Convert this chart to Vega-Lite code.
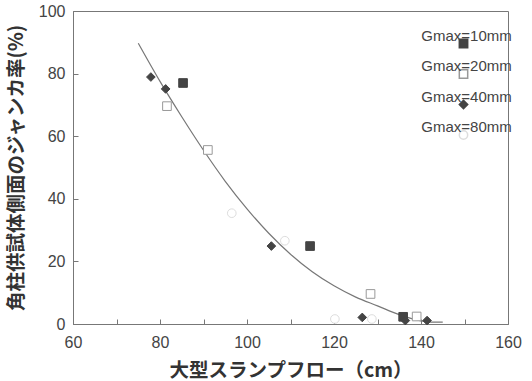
{
  "$schema": "https://vega.github.io/schema/vega-lite/v6.json",
  "autosize": {"type": "none"},
  "padding": {"left": 73, "top": 11, "right": 24, "bottom": 57},
  "width": 435,
  "height": 313,
  "background": "white",
  "config": {
    "view": {"stroke": "#777", "strokeWidth": 1},
    "font": "Liberation Sans",
    "axis": {
      "domainColor": "#777",
      "tickColor": "#777",
      "tickSize": -5,
      "grid": false,
      "labelFlush": false,
      "labelColor": "#444",
      "labelFontSize": 16,
      "labelFont": "Liberation Sans",
      "titleFont": "Noto Sans CJK JP",
      "titleFontWeight": "bold",
      "titleFontSize": 19.5,
      "titleColor": "#333"
    }
  },
  "datasets": {
    "curve": [
      {"flow": 75, "rate": 89.7},
      {"flow": 80, "rate": 77.5},
      {"flow": 85, "rate": 66.2},
      {"flow": 90, "rate": 55.5},
      {"flow": 95, "rate": 45.6},
      {"flow": 100, "rate": 36.8},
      {"flow": 105, "rate": 29.0},
      {"flow": 110, "rate": 22.3},
      {"flow": 115, "rate": 16.7},
      {"flow": 120, "rate": 12.2},
      {"flow": 125, "rate": 8.6},
      {"flow": 130, "rate": 5.8},
      {"flow": 135, "rate": 3.0},
      {"flow": 140, "rate": 1.0},
      {"flow": 142, "rate": 0.6},
      {"flow": 145, "rate": 0.6}
    ],
    "points": [
      {"series": "Gmax=10mm", "flow": 85.3, "rate": 77.0},
      {"series": "Gmax=10mm", "flow": 114.5, "rate": 24.9},
      {"series": "Gmax=10mm", "flow": 135.9, "rate": 2.3},
      {"series": "Gmax=20mm", "flow": 81.6, "rate": 69.6},
      {"series": "Gmax=20mm", "flow": 91.0, "rate": 55.6},
      {"series": "Gmax=20mm", "flow": 128.4, "rate": 9.6},
      {"series": "Gmax=20mm", "flow": 139.0, "rate": 2.4},
      {"series": "Gmax=40mm", "flow": 77.9, "rate": 78.9},
      {"series": "Gmax=40mm", "flow": 81.3, "rate": 75.1},
      {"series": "Gmax=40mm", "flow": 105.6, "rate": 24.9},
      {"series": "Gmax=40mm", "flow": 126.5, "rate": 2.1},
      {"series": "Gmax=40mm", "flow": 136.4, "rate": 1.1},
      {"series": "Gmax=40mm", "flow": 141.4, "rate": 1.1},
      {"series": "Gmax=80mm", "flow": 96.5, "rate": 35.4},
      {"series": "Gmax=80mm", "flow": 108.7, "rate": 26.6},
      {"series": "Gmax=80mm", "flow": 120.2, "rate": 1.6},
      {"series": "Gmax=80mm", "flow": 128.7, "rate": 1.6}
    ]
  },
  "layer": [
    {
      "data": {"name": "curve"},
      "mark": {"type": "line", "color": "#777", "strokeWidth": 1.2, "interpolate": "monotone"},
      "encoding": {
        "x": {
          "field": "flow", "type": "quantitative",
          "scale": {"domain": [60, 160], "nice": false},
          "axis": {
            "title": "大型スランプフロー（cm）",
            "values": [60, 70, 80, 90, 100, 110, 120, 130, 140, 150, 160],
            "labelExpr": "datum.value % 20 == 0 ? datum.label : ''",
            "labelPadding": 15,
            "titlePadding": 11
          }
        },
        "y": {
          "field": "rate", "type": "quantitative",
          "scale": {"domain": [0, 100], "nice": false},
          "axis": {
            "title": "角柱供試体側面のジャンカ率(%)",
            "values": [0, 10, 20, 30, 40, 50, 60, 70, 80, 90, 100],
            "labelExpr": "datum.value % 20 == 0 ? datum.label : ''",
            "labelPadding": 13,
            "titlePadding": 12
          }
        }
      }
    },
    {
      "data": {"name": "points"},
      "mark": {"type": "point", "strokeWidth": 1, "opacity": 1},
      "encoding": {
        "x": {"field": "flow", "type": "quantitative"},
        "y": {"field": "rate", "type": "quantitative"},
        "shape": {
          "field": "series", "type": "nominal",
          "scale": {"domain": ["Gmax=10mm", "Gmax=20mm", "Gmax=40mm", "Gmax=80mm"], "range": ["square", "square", "diamond", "circle"]},
          "legend": {
            "title": null,
            "orient": "none",
            "legendX": 383,
            "legendY": 25,
            "padding": 0,
            "rowPadding": 7.5,
            "labelFontSize": 15,
            "labelColor": "#444",
            "labelAlign": "center",
            "labelBaseline": "bottom",
            "labelOffset": -4.5,
            "labelLimit": 200,
            "symbolSize": 70
          }
        },
        "fill": {
          "field": "series", "type": "nominal",
          "scale": {"domain": ["Gmax=10mm", "Gmax=20mm", "Gmax=40mm", "Gmax=80mm"], "range": ["#444", "#ffffff", "#444", "#ffffff"]}
        },
        "stroke": {
          "field": "series", "type": "nominal",
          "scale": {"domain": ["Gmax=10mm", "Gmax=20mm", "Gmax=40mm", "Gmax=80mm"], "range": ["#444", "#999", "#444", "#dddddd"]}
        },
        "size": {"value": 75}
      }
    }
  ]
}
